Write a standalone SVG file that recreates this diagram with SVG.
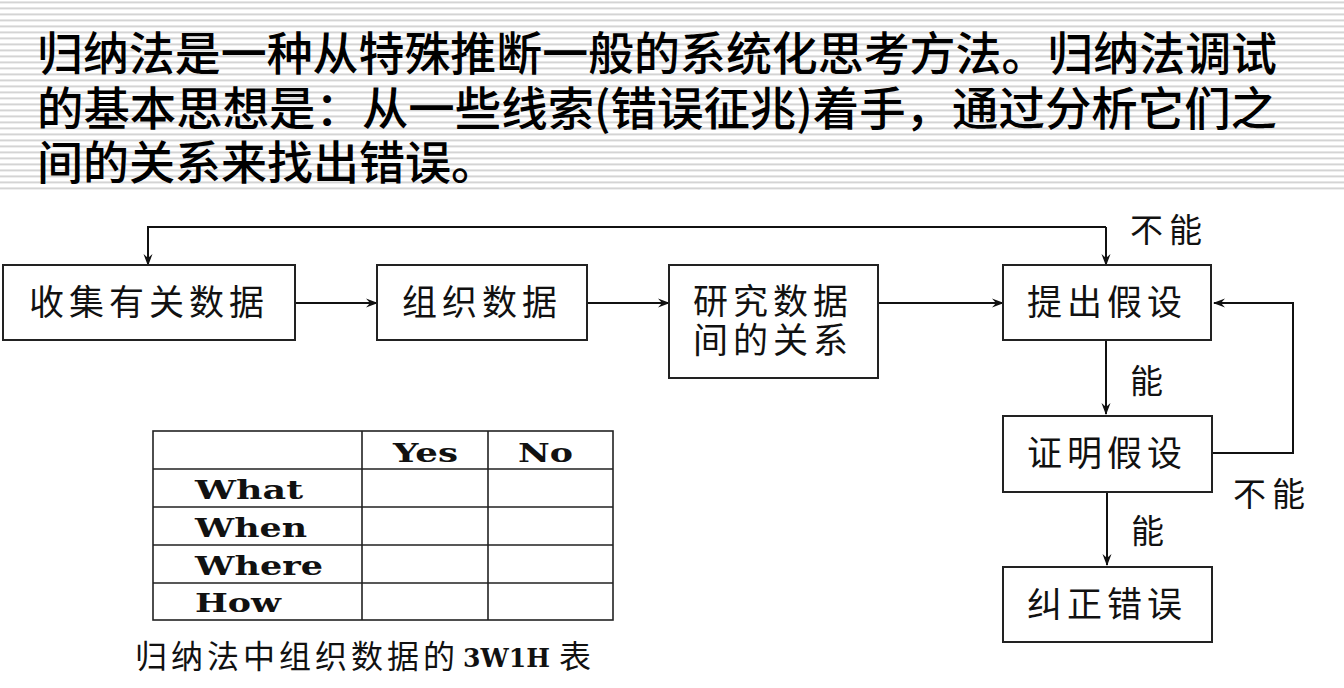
<svg xmlns="http://www.w3.org/2000/svg" width="1344" height="688" viewBox="0 0 1344 688">
  <defs>
    <pattern id="stripes" x="0" y="0" width="8" height="6" patternUnits="userSpaceOnUse">
      <rect x="0" y="1" width="8" height="1" fill="#e6e6e6"/>
      <rect x="0" y="2" width="8" height="1" fill="#d4d4d4"/>
      <rect x="0" y="3" width="8" height="1" fill="#eeeeee"/>
    </pattern>
    <marker id="arrow" viewBox="0 0 12 10" refX="11" refY="5" markerWidth="12" markerHeight="10" markerUnits="userSpaceOnUse" orient="auto">
      <path d="M0,0.5 L12,5 L0,9.5 L4,5 Z" fill="#111"/>
    </marker>
  </defs>
  <style>
    .title { font-family: "Noto Sans CJK SC", "Noto Sans", sans-serif; font-size: 46px; font-weight: 500; fill: #000; }
    .box { fill: #fff; stroke: #222; stroke-width: 2; }
    .label { font-family: "Noto Sans CJK SC", "Noto Sans", sans-serif; font-size: 35px; fill: #111; text-anchor: middle; }
    .tag { font-family: "Noto Sans CJK SC", "Noto Sans", sans-serif; font-size: 33px; fill: #111; letter-spacing: 6px; }
    .wire { fill: none; stroke: #111; stroke-width: 2; }
    .grid { fill: none; stroke: #222; stroke-width: 1.6; }
    .head { font-family: "DejaVu Serif", "Liberation Serif", serif; font-size: 26px; font-weight: 700; fill: #111; }
    .caption { font-family: "Noto Sans CJK SC", "Noto Sans", sans-serif; font-size: 32px; fill: #111; letter-spacing: 4px; }
  </style>

  <rect width="1344" height="688" fill="#fff"/>
  <rect x="0" y="0" width="1344" height="190" fill="url(#stripes)"/>

  <!-- heading paragraph -->
  <g id="heading">
    <text class="title" x="37" y="70" textLength="1240" lengthAdjust="spacingAndGlyphs">归纳法是一种从特殊推断一般的系统化思考方法。归纳法调试</text>
    <text class="title" x="37" y="125" textLength="1240" lengthAdjust="spacingAndGlyphs">的基本思想是：从一些线索(错误征兆)着手，通过分析它们之</text>
    <text class="title" x="37" y="179">间的关系来找出错误。</text>
  </g>

  <!-- connectors -->
  <g id="connectors">
    <path class="wire" d="M295,303 H377" marker-end="url(#arrow)"/>
    <path class="wire" d="M587,303 H669" marker-end="url(#arrow)"/>
    <path class="wire" d="M878,303 H1003" marker-end="url(#arrow)"/>
    <path class="wire" d="M1106,227 H148 V265" marker-end="url(#arrow)"/>
    <path class="wire" d="M1106,227 V265" marker-end="url(#arrow)"/>
    <path class="wire" d="M1106,340 V414" marker-end="url(#arrow)"/>
    <path class="wire" d="M1107,492 V565" marker-end="url(#arrow)"/>
    <path class="wire" d="M1212,453 H1293 V303 H1214" marker-end="url(#arrow)"/>
    <text class="tag" x="1130" y="242">不能</text>
    <text class="tag" x="1130" y="393">能</text>
    <text class="tag" x="1131" y="543">能</text>
    <text class="tag" x="1233" y="506">不能</text>
  </g>

  <!-- flow nodes -->
  <g id="collect">
    <rect class="box" x="3" y="265" width="292" height="75"/>
    <text class="label" x="149" y="315" letter-spacing="5">收集有关数据</text>
  </g>
  <g id="organize">
    <rect class="box" x="377" y="265" width="210" height="75"/>
    <text class="label" x="482" y="315" letter-spacing="5">组织数据</text>
  </g>
  <g id="study">
    <rect class="box" x="669" y="265" width="209" height="113"/>
    <text class="label" x="773" y="314" letter-spacing="5">研究数据</text>
    <text class="label" x="773" y="353" letter-spacing="5">间的关系</text>
  </g>
  <g id="hypothesis">
    <rect class="box" x="1003" y="265" width="208" height="75"/>
    <text class="label" x="1107" y="315" letter-spacing="5">提出假设</text>
  </g>
  <g id="prove">
    <rect class="box" x="1003" y="416" width="209" height="76"/>
    <text class="label" x="1107" y="466" letter-spacing="5">证明假设</text>
  </g>
  <g id="fix">
    <rect class="box" x="1003" y="567" width="209" height="75"/>
    <text class="label" x="1107" y="617" letter-spacing="5">纠正错误</text>
  </g>

  <!-- 3W1H table -->
  <g id="table">
    <rect class="grid" x="153" y="431" width="460" height="189"/>
    <path class="grid" d="M362,431 V620 M488,431 V620 M153,469 H613 M153,507 H613 M153,545 H613 M153,583 H613"/>
    <text class="head" x="393" y="462" textLength="65" lengthAdjust="spacingAndGlyphs">Yes</text>
    <text class="head" x="518" y="462" textLength="55" lengthAdjust="spacingAndGlyphs">No</text>
    <text class="head" x="195" y="499" textLength="108" lengthAdjust="spacingAndGlyphs">What</text>
    <text class="head" x="195" y="537" textLength="112" lengthAdjust="spacingAndGlyphs">When</text>
    <text class="head" x="195" y="575" textLength="128" lengthAdjust="spacingAndGlyphs">Where</text>
    <text class="head" x="195" y="612" textLength="86" lengthAdjust="spacingAndGlyphs">How</text>
  </g>
  <g id="table-caption">
    <text class="caption" x="135" y="668">归纳法中组织数据的</text>
    <text class="head" x="463" y="667" textLength="87" lengthAdjust="spacingAndGlyphs">3W1H</text>
    <text class="caption" x="559" y="668">表</text>
  </g>
</svg>
